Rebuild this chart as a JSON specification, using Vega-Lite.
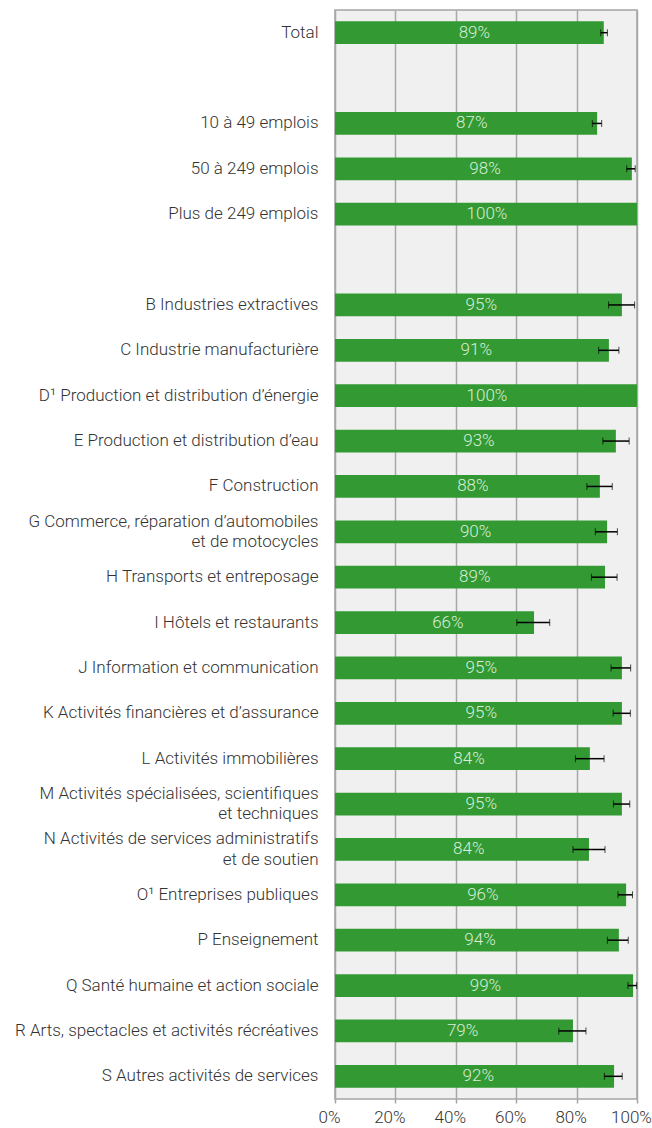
{
  "$schema": "https://vega.github.io/schema/vega-lite/v6.json",
  "autosize": {"type": "none"},
  "padding": {"left": 335, "top": 10, "right": 15, "bottom": 29},
  "width": 302,
  "height": 1089,
  "background": "white",
  "config": {
    "view": {"fill": "#f0f0f0", "stroke": "#a4a4a4", "strokeWidth": 1.5},
    "font": "Roboto",
    "axis": {"labelFont": "Roboto", "labelFontWeight": 300, "labelFontSize": 17, "labelColor": "#333333", "title": null}
  },
  "data": {
    "values": [
      {"cat": "Total", "value": 0.89, "lo": 0.88, "hi": 0.902},
      {"cat": "10 à 49 emplois", "value": 0.868, "lo": 0.852, "hi": 0.883},
      {"cat": "50 à 249 emplois", "value": 0.983, "lo": 0.966, "hi": 0.994},
      {"cat": "Plus de 249 emplois", "value": 1.0, "lo": null, "hi": null},
      {"cat": "B Industries extractives", "value": 0.95, "lo": 0.906, "hi": 0.992},
      {"cat": "C Industrie manufacturière", "value": 0.907, "lo": 0.873, "hi": 0.94},
      {"cat": "D¹ Production et distribution d’énergie", "value": 1.0, "lo": null, "hi": null},
      {"cat": "E Production et distribution d’eau", "value": 0.93, "lo": 0.887, "hi": 0.974},
      {"cat": "F Construction", "value": 0.877, "lo": 0.834, "hi": 0.918},
      {"cat": "G Commerce, réparation d’automobiles|et de motocycles", "value": 0.901, "lo": 0.862, "hi": 0.935},
      {"cat": "H Transports et entreposage", "value": 0.894, "lo": 0.849, "hi": 0.934},
      {"cat": "I Hôtels et restaurants", "value": 0.659, "lo": 0.602, "hi": 0.711},
      {"cat": "J Information et communication", "value": 0.95, "lo": 0.914, "hi": 0.979},
      {"cat": "K Activités financières et d’assurance", "value": 0.95, "lo": 0.921, "hi": 0.978},
      {"cat": "L Activités immobilières", "value": 0.844, "lo": 0.796, "hi": 0.891},
      {"cat": "M Activités spécialisées, scientifiques|et techniques", "value": 0.95, "lo": 0.922, "hi": 0.976},
      {"cat": "N Activités de services administratifs|et de soutien", "value": 0.841, "lo": 0.788, "hi": 0.894},
      {"cat": "O¹ Entreprises publiques", "value": 0.964, "lo": 0.937, "hi": 0.985},
      {"cat": "P Enseignement", "value": 0.94, "lo": 0.902, "hi": 0.971},
      {"cat": "Q Santé humaine et action sociale", "value": 0.987, "lo": 0.97, "hi": 0.999},
      {"cat": "R Arts, spectacles et activités récréatives", "value": 0.788, "lo": 0.741, "hi": 0.831},
      {"cat": "S Autres activités de services", "value": 0.924, "lo": 0.892, "hi": 0.951}
    ]
  },
  "encoding": {
    "y": {
      "field": "cat",
      "type": "nominal",
      "scale": {
        "domain": ["Total", "", "10 à 49 emplois", "50 à 249 emplois", "Plus de 249 emplois", " ",
          "B Industries extractives", "C Industrie manufacturière", "D¹ Production et distribution d’énergie",
          "E Production et distribution d’eau", "F Construction", "G Commerce, réparation d’automobiles|et de motocycles",
          "H Transports et entreposage", "I Hôtels et restaurants", "J Information et communication",
          "K Activités financières et d’assurance", "L Activités immobilières",
          "M Activités spécialisées, scientifiques|et techniques", "N Activités de services administratifs|et de soutien",
          "O¹ Entreprises publiques", "P Enseignement", "Q Santé humaine et action sociale",
          "R Arts, spectacles et activités récréatives", "S Autres activités de services"],
        "paddingInner": 0.5,
        "paddingOuter": 0.25
      },
      "axis": {
        "domain": false,
        "ticks": false,
        "grid": false,
        "labelPadding": 17,
        "labelLimit": 400,
        "labelLineHeight": 20.5,
        "labelExpr": "split(datum.label, '|')",
        "labelOffset": {"condition": {"test": "indexof(datum.value, '|') >= 0", "value": -10.25}, "value": 0}
      }
    }
  },
  "layer": [
    {
      "mark": {"type": "bar", "color": "#339933"},
      "encoding": {
        "x": {
          "field": "value",
          "type": "quantitative",
          "scale": {"domain": [0, 1], "nice": false},
          "axis": {
            "values": [0, 0.2, 0.4, 0.6, 0.8, 1],
            "format": ".0%",
            "domain": false,
            "grid": true,
            "gridColor": "#a8a8a8",
            "gridWidth": 1.5,
            "ticks": true,
            "tickColor": "#a4a4a4",
            "tickWidth": 1.5,
            "tickSize": 4,
            "labelPadding": 6,
            "labelOffset": -6,
            "labelFlush": false
          }
        }
      }
    },
    {
      "mark": {"type": "errorbar", "ticks": {"size": 7, "color": "black", "strokeWidth": 1.5}, "rule": {"color": "black", "strokeWidth": 1.5}},
      "encoding": {
        "x": {"field": "lo", "type": "quantitative", "scale": {"domain": [0, 1], "nice": false}, "axis": null},
        "x2": {"field": "hi"}
      }
    },
    {
      "mark": {"type": "text", "color": "#d8eed8", "fontSize": 17, "font": "Roboto", "fontWeight": 300, "align": "center", "baseline": "middle"},
      "encoding": {
        "x": {"field": "value", "type": "quantitative", "scale": {"domain": [-0.325, 2.308], "nice": false, "zero": false}, "axis": null},
        "text": {"field": "value", "type": "quantitative", "format": ".0%"}
      }
    }
  ],
  "resolve": {"scale": {"x": "independent"}}
}
